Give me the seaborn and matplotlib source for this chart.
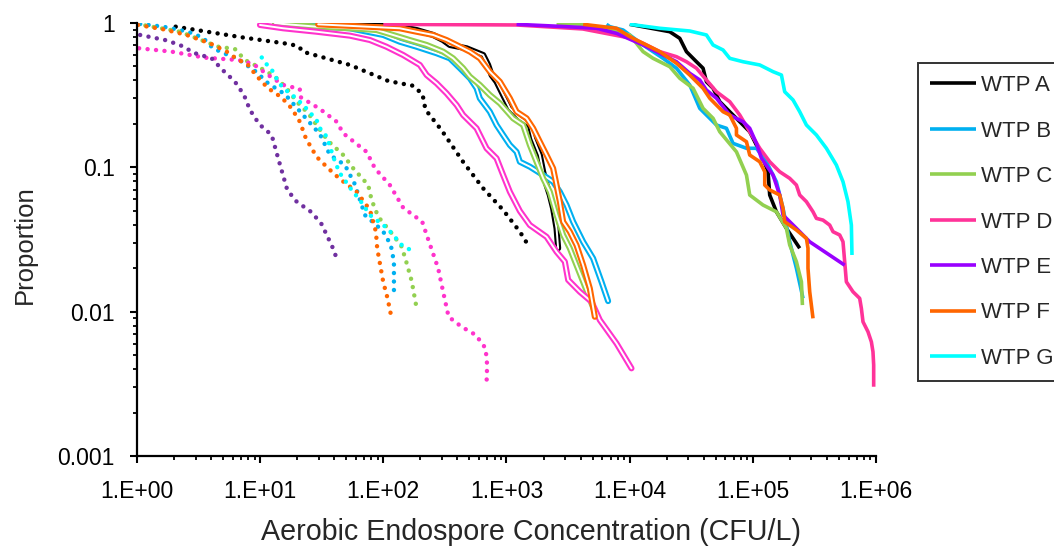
import matplotlib
matplotlib.use("Agg")
import matplotlib.pyplot as plt
import matplotlib.patheffects as pe
from matplotlib.ticker import FixedLocator, LogLocator, NullFormatter, FixedFormatter
import seaborn as sns

# WTP A
a_raw_x = [10040, 21200, 25550, 28960, 34910, 39500, 42070, 47630, 53980, 65060, 78440, 94540, 107200, 121200, 133100, 137400, 155700, 187700, 240700]
a_raw_y = [0.979, 0.870, 0.783, 0.633, 0.539, 0.486, 0.392, 0.353, 0.285, 0.2428, 0.207, 0.1764, 0.1427, 0.1155, 0.0932, 0.0643, 0.0492, 0.0378, 0.0275]
a_set_x = [13.2, 73.2, 136, 186, 254, 306, 347, 474, 647, 710, 757, 831, 940, 1066, 1285, 1549, 1647, 1867, 1986, 2117, 2250, 2393, 2551, 2629]
a_set_y = [0.992, 0.969, 0.943, 0.894, 0.826, 0.762, 0.704, 0.668, 0.600, 0.512, 0.436, 0.392, 0.317, 0.2563, 0.2186, 0.1964, 0.1589, 0.1217, 0.0932, 0.0754, 0.0643, 0.0520, 0.0378, 0.0275]
a_fil_x = [2.06, 7.08, 17.8, 20.8, 22.1, 53.6, 110, 173, 208, 220, 297, 445, 647, 940, 1285, 1528]
a_fil_y = [0.943, 0.796, 0.712, 0.682, 0.633, 0.512, 0.396, 0.368, 0.322, 0.251, 0.181, 0.109, 0.0715, 0.0506, 0.0358, 0.0282]

# WTP B
b_raw_x = [6495, 6904, 8853, 12870, 18700, 24030, 30800, 37130, 50750, 61160, 69190, 88920, 107200, 129100, 155700, 176200, 199600, 226300, 256000]
b_raw_y = [0.979, 0.943, 0.894, 0.704, 0.569, 0.486, 0.372, 0.2563, 0.1964, 0.1864, 0.1466, 0.1355, 0.1355, 0.1093, 0.0795, 0.0520, 0.0305, 0.0200, 0.01237]
b_set_x = [19.8, 53.6, 100, 136, 186, 271, 347, 419, 505, 572, 608, 733, 831, 940, 1066, 1208, 1285, 1549, 1986, 2393, 2713, 3075, 3479, 4195, 5055, 5912, 6693]
b_set_y = [0.969, 0.919, 0.826, 0.742, 0.685, 0.617, 0.569, 0.486, 0.414, 0.353, 0.3007, 0.2428, 0.1964, 0.1675, 0.1427, 0.128, 0.1093, 0.101, 0.0884, 0.0795, 0.0677, 0.0548, 0.0420, 0.0305, 0.0234, 0.0161, 0.01184]
b_fil_x = [1.06, 1.63, 2.59, 3.43, 4.14, 5.48, 6.48, 9.25, 11.6, 15.9, 22.3, 30.6, 36.9, 48.8, 58.8, 70.9, 99.3, 115, 122, 122]
b_fil_y = [0.984, 0.943, 0.870, 0.791, 0.668, 0.600, 0.569, 0.460, 0.382, 0.321, 0.2304, 0.1693, 0.1217, 0.1037, 0.0762, 0.0467, 0.0362, 0.0290, 0.0222, 0.0130]

# WTP C
c_raw_x = [2551, 4195, 10040, 12870, 15510, 21200, 25550, 32770, 39500, 47630, 53980, 73760, 88920, 94540, 121200, 155700, 187700, 199600, 226300, 248500, 253200]
c_raw_y = [0.995, 0.979, 0.826, 0.633, 0.569, 0.498, 0.414, 0.353, 0.2563, 0.2186, 0.1764, 0.128, 0.0884, 0.0643, 0.0548, 0.0492, 0.0378, 0.0290, 0.0222, 0.0161, 0.01111]
c_set_x = [13.2, 28.7, 53.6, 88.2, 120, 164, 225, 306, 369, 445, 505, 608, 733, 884, 1133, 1366, 1549, 1755, 1986, 2250, 2551, 2886, 3270, 3706, 4195, 5218]
c_set_y = [0.995, 0.943, 0.919, 0.894, 0.826, 0.762, 0.704, 0.633, 0.569, 0.486, 0.4245, 0.372, 0.317, 0.2777, 0.2186, 0.1964, 0.1427, 0.1093, 0.0839, 0.0677, 0.0467, 0.0340, 0.0275, 0.0210, 0.0161, 0.00998]
c_fil_x = [1.0, 2.23, 4.57, 6.24, 7.53, 9.96, 13.2, 16.4, 19.8, 24.6, 28.7, 35.7, 47.3, 57.0, 75.4, 80.4, 90.9, 120, 141, 155, 170, 184]
c_fil_y = [0.984, 0.870, 0.685, 0.660, 0.554, 0.490, 0.425, 0.353, 0.285, 0.2366, 0.1964, 0.1521, 0.1217, 0.0984, 0.0754, 0.0593, 0.0455, 0.0340, 0.0282, 0.0216, 0.0163, 0.01124]

# WTP D
d_raw_x = [100, 1208, 4169, 10040, 12870, 17590, 24030, 28960, 34910, 42070, 50750, 65060, 78440, 94540, 114000, 137400, 165600, 199600, 226300, 240700, 272900, 308700, 328900, 372100, 421700, 448700, 508200, 540800, 558100, 576000, 651800, 738700, 762400, 786000, 862900, 919300, 947300, 959700, 959700]
d_raw_y = [0.979, 0.969, 0.909, 0.787, 0.7233, 0.633, 0.584, 0.539, 0.486, 0.403, 0.334, 0.285, 0.2304, 0.1764, 0.1355, 0.1093, 0.0932, 0.0839, 0.0754, 0.0643, 0.0578, 0.0492, 0.0443, 0.0431, 0.0398, 0.0358, 0.0340, 0.0305, 0.0222, 0.0161, 0.01374, 0.01237, 0.01054, 0.00851, 0.00726, 0.00618, 0.00527, 0.00427, 0.00302]
d_set_x = [9.96, 15.4, 28.7, 53.6, 77.9, 106, 145, 198, 225, 271, 326, 394, 445, 572, 689, 831, 940, 1066, 1285, 1549, 2117, 2551, 2979, 3170, 3943, 4906, 5731, 7830, 10360]
d_set_y = [0.969, 0.919, 0.870, 0.817, 0.762, 0.685, 0.600, 0.512, 0.436, 0.382, 0.326, 0.270, 0.2304, 0.1864, 0.1355, 0.1155, 0.0884, 0.0677, 0.0498, 0.0398, 0.0330, 0.0260, 0.0222, 0.0166, 0.01374, 0.01172, 0.00875, 0.00603, 0.00405]
d_fil_x = [1.04, 1.91, 3.56, 6.64, 8.79, 11.3, 15.4, 21.0, 21.0, 30.6, 41.8, 47.3, 73.2, 85.5, 113, 145, 207, 225, 279, 306, 339, 432, 564, 677, 697, 690]
d_fil_y = [0.668, 0.633, 0.575, 0.554, 0.520, 0.443, 0.372, 0.349, 0.3085, 0.2535, 0.207, 0.172, 0.128, 0.0984, 0.0754, 0.0525, 0.0420, 0.0340, 0.01995, 0.01374, 0.00922, 0.00786, 0.00689, 0.00557, 0.00427, 0.00327]

# WTP E
e_raw_x = [1208, 3075, 5386, 7830, 12870, 17590, 24030, 30800, 37130, 42070, 50750, 65060, 83420, 94540, 107200, 117700, 146200, 165600, 176200, 226300, 290200, 558100]
e_raw_y = [0.979, 0.943, 0.919, 0.848, 0.704, 0.617, 0.539, 0.448, 0.403, 0.343, 0.301, 0.2304, 0.207, 0.1864, 0.1466, 0.1155, 0.0884, 0.0643, 0.0467, 0.0378, 0.0305, 0.0210]
e_fil_x = [1.06, 1.69, 2.23, 2.96, 4.04, 4.96, 6.24, 7.39, 8.26, 9.84, 12.4, 14.0, 16.6, 19.8, 26.2, 31.6, 38.5, 43.0]
e_fil_y = [0.826, 0.762, 0.704, 0.617, 0.569, 0.472, 0.392, 0.317, 0.250, 0.1986, 0.1675, 0.1155, 0.0697, 0.0578, 0.0488, 0.0403, 0.0282, 0.0220]

# WTP F
f_raw_x = [4195, 7830, 10040, 12870, 17590, 24030, 30800, 39500, 44770, 50750, 57410, 65060, 73760, 73760, 88920, 94540, 114000, 125200, 125200, 137400, 165600, 176200, 181800, 226300, 272900, 281000, 281000, 290200, 308700]
f_raw_y = [0.979, 0.919, 0.804, 0.723, 0.633, 0.526, 0.436, 0.353, 0.301, 0.270, 0.2428, 0.2304, 0.1864, 0.1675, 0.1504, 0.1217, 0.1093, 0.0932, 0.0754, 0.0697, 0.0643, 0.0520, 0.0420, 0.0368, 0.0322, 0.0275, 0.0200, 0.01374, 0.00899]
f_set_x = [29.6, 73.2, 136, 186, 254, 326, 394, 505, 608, 733, 884, 1066, 1208, 1456, 1647, 1867, 2117, 2393, 2551, 2713, 2886, 3270, 3706, 4195, 4753, 5218]
f_set_y = [0.979, 0.943, 0.919, 0.870, 0.826, 0.762, 0.704, 0.633, 0.569, 0.460, 0.392, 0.3007, 0.2428, 0.2186, 0.1864, 0.1504, 0.1217, 0.0984, 0.0754, 0.0578, 0.0420, 0.0358, 0.0289, 0.0210, 0.0145, 0.00922]
f_fil_x = [1.02, 1.64, 2.53, 3.91, 5.35, 6.64, 7.77, 9.37, 11.6, 14.9, 18.0, 21.0, 23.5, 28.7, 35.7, 44.4, 60.7, 77.9, 87.1, 89.2, 99.8, 108, 115]
f_fil_y = [0.969, 0.904, 0.826, 0.723, 0.633, 0.554, 0.526, 0.429, 0.353, 0.3055, 0.2564, 0.207, 0.1589, 0.1184, 0.0984, 0.0830, 0.0678, 0.0506, 0.0358, 0.0275, 0.0161, 0.01248, 0.00962]

# WTP G
g_raw_x = [10040, 17590, 30800, 42070, 47630, 57410, 65060, 83420, 114000, 146200, 171000, 181800, 212400, 240700, 272900, 328900, 396400, 477800, 540800, 593600, 632400, 639700]
g_raw_y = [0.979, 0.919, 0.880, 0.826, 0.704, 0.650, 0.569, 0.539, 0.512, 0.460, 0.436, 0.334, 0.293, 0.2428, 0.1964, 0.1675, 0.1355, 0.1037, 0.0795, 0.0578, 0.0398, 0.0247]
g_fil_x = [10.3, 11.3, 12.6, 14.0, 15.4, 18.6, 22.4, 28.7, 30.6, 34.7, 36.9, 39.2, 43.9, 55.3, 64.6, 77.9, 108, 141, 172]
g_fil_y = [0.577, 0.517, 0.465, 0.392, 0.354, 0.312, 0.270, 0.213, 0.1864, 0.163, 0.139, 0.1184, 0.0923, 0.0697, 0.0593, 0.0467, 0.0378, 0.0290, 0.0263]

plants = ["WTP A", "WTP B", "WTP C", "WTP D", "WTP E", "WTP F", "WTP G"]

sns.set_style("ticks")
plt.rcParams["font.family"] = ["Liberation Sans", "DejaVu Sans"]

fig = plt.figure(figsize=(10.54, 5.46), dpi=100)
ax = fig.add_axes([0.130, 0.1648, 0.701, 0.7931])
ax.set_xscale("log")
ax.set_yscale("log")

# dotted series
dotted = [
    (a_fil_x, a_fil_y, "#000000"),
    (b_fil_x, b_fil_y, "#00B0F0"),
    (c_fil_x, c_fil_y, "#92D050"),
    (d_fil_x, d_fil_y, "#FF33CC"),
    (e_fil_x, e_fil_y, "#7030A0"),
    (f_fil_x, f_fil_y, "#FF6600"),
    (g_fil_x, g_fil_y, "#00FFFF"),
]
for x, y, c in dotted:
    sns.lineplot(x=x, y=y, ax=ax, color=c, lw=3.2, sort=False, estimator=None,
                 linestyle=(0, (0.01, 1.9)), dash_capstyle="round")

# double (hollow) series
double = [
    (a_set_x, a_set_y, "#000000"),
    (b_set_x, b_set_y, "#00B0F0"),
    (c_set_x, c_set_y, "#92D050"),
    (d_set_x, d_set_y, "#FF33CC"),
    (f_set_x, f_set_y, "#FF6600"),
]
for x, y, c in double:
    sns.lineplot(x=x, y=y, ax=ax, color="white", lw=1.4, sort=False, estimator=None,
                 solid_capstyle="round", solid_joinstyle="round",
                 path_effects=[pe.Stroke(linewidth=4.4, foreground=c, capstyle="round", joinstyle="round"), pe.Normal()])

# solid series
solid = [
    (a_raw_x, a_raw_y, "#000000"),
    (b_raw_x, b_raw_y, "#00B0F0"),
    (c_raw_x, c_raw_y, "#92D050"),
    (d_raw_x, d_raw_y, "#FF3399"),
    (e_raw_x, e_raw_y, "#9900FF"),
    (f_raw_x, f_raw_y, "#FF6600"),
    (g_raw_x, g_raw_y, "#00FFFF"),
]
for (x, y, c), name in zip(solid, plants):
    sns.lineplot(x=x, y=y, ax=ax, color=c, lw=2.6, sort=False, estimator=None,
                 solid_capstyle="butt", solid_joinstyle="round", label=name)

ax.set_xlim(1, 1e6)
ax.set_ylim(0.001, 1)

ax.xaxis.set_major_locator(FixedLocator([1, 10, 100, 1e3, 1e4, 1e5, 1e6]))
ax.xaxis.set_major_formatter(FixedFormatter(["1.E+00", "1.E+01", "1.E+02", "1.E+03", "1.E+04", "1.E+05", "1.E+06"]))
ax.yaxis.set_major_locator(FixedLocator([0.001, 0.01, 0.1, 1]))
ax.yaxis.set_major_formatter(FixedFormatter(["0.001", "0.01", "0.1", "1"]))
ax.xaxis.set_minor_locator(LogLocator(base=10, subs=range(2, 10), numticks=20))
ax.yaxis.set_minor_locator(LogLocator(base=10, subs=range(2, 10), numticks=20))
ax.xaxis.set_minor_formatter(NullFormatter())
ax.yaxis.set_minor_formatter(NullFormatter())

for s in ["top", "right"]:
    ax.spines[s].set_visible(False)
for s in ["left", "bottom"]:
    ax.spines[s].set_linewidth(1.6)
    ax.spines[s].set_color("black")

ax.tick_params(which="major", direction="out", length=5, width=1.5, color="black", labelsize=16.5, labelcolor="black")
ax.tick_params(which="minor", direction="out", length=3.2, width=1.3, color="black")
ax.tick_params(axis="x", which="major", pad=12)
ax.tick_params(axis="y", which="major", pad=11)

ax.set_xlabel("Aerobic Endospore Concentration (CFU/L)", fontsize=20.6)
ax.set_ylabel("Proportion", fontsize=18.5)
ax.xaxis.set_label_coords((531 - 137) / 739, (456 - 518) / 433)
ax.yaxis.set_label_coords((37 - 137) / 739, (456 - 245) / 433)

leg = ax.legend(loc="upper left", bbox_to_anchor=(918 / 1054, 1 - 63 / 546),
                bbox_transform=fig.transFigure, fontsize=16, frameon=True, fancybox=False,
                edgecolor="black", handlelength=2.05, handletextpad=0.25, labelspacing=1.1,
                borderpad=0.55, borderaxespad=0)
leg.get_frame().set_linewidth(1.4)
leg.get_frame().set_facecolor("white")

fig.savefig("out.png", dpi=100)
